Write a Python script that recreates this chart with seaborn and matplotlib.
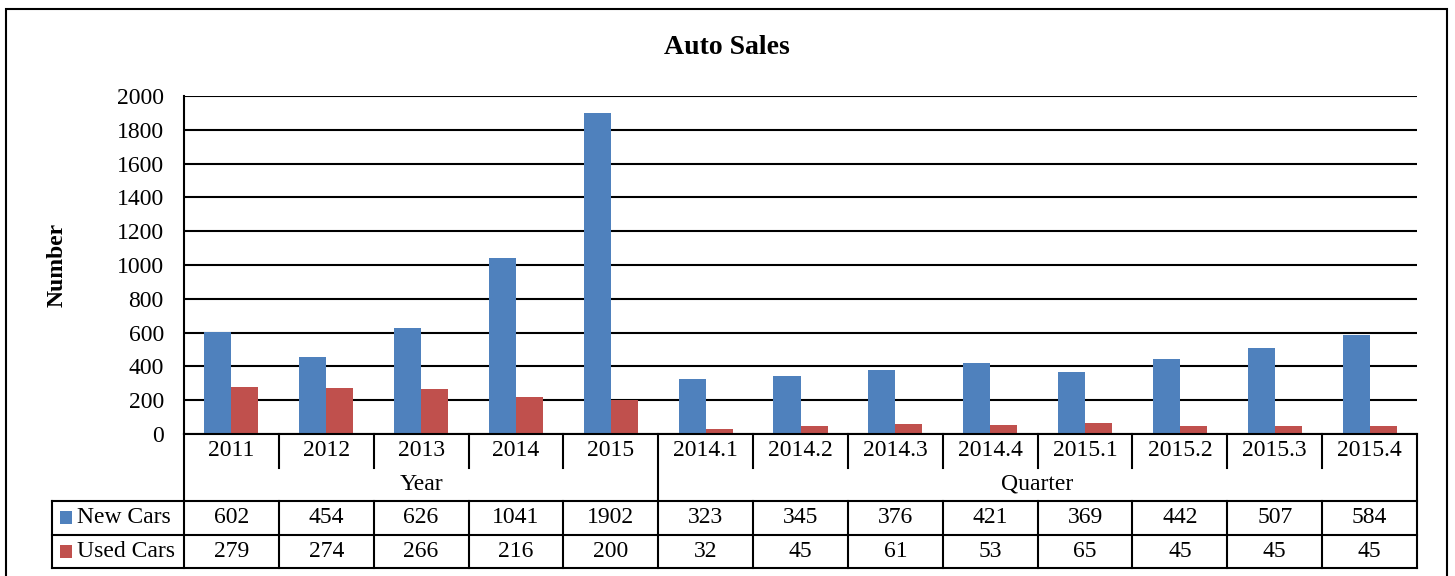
import matplotlib
matplotlib.use("Agg")
import matplotlib.pyplot as plt
import seaborn as sns
import pandas as pd
from matplotlib.patches import Rectangle

categories = ["2011", "2012", "2013", "2014", "2015",
              "2014.1", "2014.2", "2014.3", "2014.4",
              "2015.1", "2015.2", "2015.3", "2015.4"]
new_cars = [602, 454, 626, 1041, 1902, 323, 345, 376, 421, 369, 442, 507, 584]
used_cars = [279, 274, 266, 216, 200, 32, 45, 61, 53, 65, 45, 45, 45]
groups = ["Year", "Quarter"]
group_sizes = [5, 8]
series_names = ["New Cars", "Used Cars"]
colors = ["#4F81BD", "#C0504D"]
yticks = list(range(0, 2001, 200))

sns.set_theme(style="white")
plt.rcParams["font.family"] = ["Liberation Serif", "DejaVu Serif"]
plt.rcParams["text.color"] = "black"
plt.rcParams["axes.labelcolor"] = "black"
plt.rcParams["ytick.color"] = "black"
plt.rcParams["xtick.color"] = "black"

df = pd.DataFrame({
    "period": categories * 2,
    "value": new_cars + used_cars,
    "series": [series_names[0]] * len(categories) + [series_names[1]] * len(categories),
})

W, H = 1455, 576
fig = plt.figure(figsize=(W / 100, H / 100), dpi=100)
fig.patch.set_facecolor("white")

L, R, T, B = 184, 1417, 96, 434
ax = fig.add_axes([L / W, 1 - B / H, (R - L) / W, (B - T) / H])
sns.barplot(data=df, x="period", y="value", hue="series", palette=colors,
            order=categories, hue_order=series_names, width=0.57, gap=0,
            saturation=1, legend=False, ax=ax, linewidth=0)
n = len(categories)
ax.set_xlim(-0.5, n - 0.5)
ax.set_ylim(0, 2000)
ax.set_yticks(yticks)
ax.set_yticklabels([str(v) for v in yticks], fontsize=17, color="black")
ax.set_xticks([])
ax.set_xlabel("")
ax.set_ylabel("Number", fontsize=17, fontweight="bold", labelpad=35, color="black")
ax.yaxis.grid(True, color="black", linewidth=1.5)
ax.set_axisbelow(True)
ax.tick_params(axis="y", length=0, pad=14.5)
for s in ["top", "right"]:
    ax.spines[s].set_visible(False)
for s in ["left", "bottom"]:
    ax.spines[s].set_color("black")
    ax.spines[s].set_linewidth(1.5)

fig.text(727 / W, 1 - 48 / H, "Auto Sales", fontsize=20, fontweight="bold",
         ha="center", va="center", color="black")

# data table
TL, TB = 52, 568
cat_w = (R - L) / n
leg_w = (L - TL) / cat_w
tax = fig.add_axes([TL / W, 1 - TB / H, (R - TL) / W, (TB - B) / H])
x0 = -0.5 - leg_w
tax.set_xlim(x0, n - 0.5)
tax.set_ylim(4, 0)
tax.axis("off")
lw = 1.5
kw = dict(color="black", linewidth=lw, clip_on=False, solid_capstyle="projecting")

# verticals
bounds = []
acc = 0
for g in group_sizes:
    acc += g
    bounds.append(acc - 0.5)
for i in range(n + 1):
    b = i - 0.5
    if i == 0 or b in bounds:
        tax.plot([b, b], [0, 4], **kw)
    else:
        tax.plot([b, b], [0, 1], **kw)
        tax.plot([b, b], [2, 4], **kw)
tax.plot([x0, x0], [2, 4], **kw)
for yy in [2, 3, 4]:
    tax.plot([x0, n - 0.5], [yy, yy], **kw)

fs = 17
for i, c in enumerate(categories):
    tax.text(i, 0.5, c, ha="center", va="center", fontsize=fs, color="black")
    tax.text(i, 2.5, str(new_cars[i]), ha="center", va="center", fontsize=fs, color="black")
    tax.text(i, 3.5, str(used_cars[i]), ha="center", va="center", fontsize=fs, color="black")
start = 0
for g, sz in zip(groups, group_sizes):
    tax.text(start + (sz - 1) / 2, 1.5, g, ha="center", va="center", fontsize=fs, color="black")
    start += sz
for k, (name, col) in enumerate(zip(series_names, colors)):
    yy = 2.5 + k
    tax.add_patch(Rectangle((x0 + 8 / cat_w, yy - 0.2), 12 / cat_w, 0.4,
                            facecolor=col, edgecolor="none", clip_on=False))
    tax.text(x0 + 25 / cat_w, yy, name, ha="left", va="center", fontsize=fs, color="black")

# outer frame
fig.patches.append(Rectangle((6 / W, -0.05), (1447 - 6) / W, 1 - 9 / H + 0.05,
                             transform=fig.transFigure, fill=False,
                             edgecolor="black", linewidth=1.5))

fig.savefig("out.png", dpi=100, facecolor="white")
